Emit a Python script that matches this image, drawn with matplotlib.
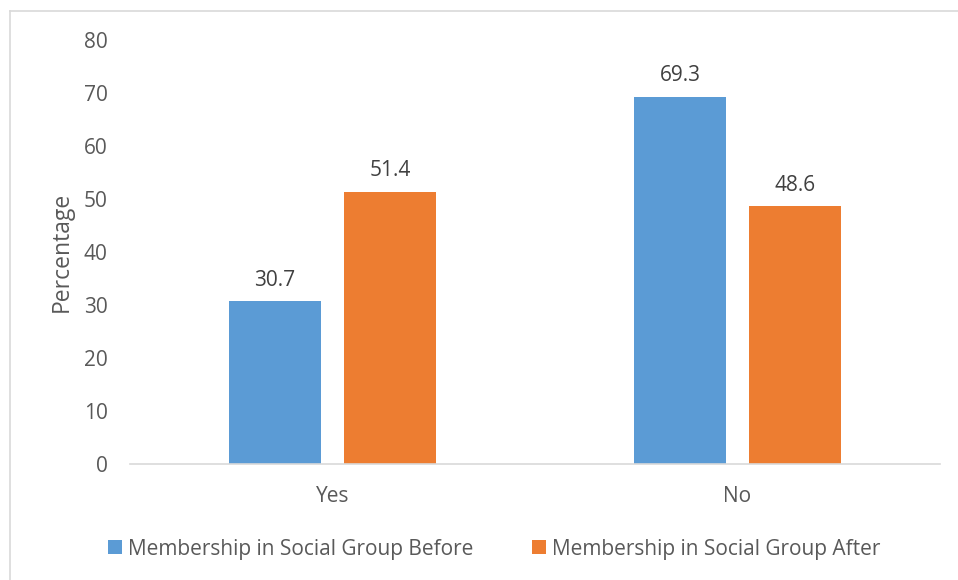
import matplotlib
matplotlib.use("Agg")
import matplotlib.pyplot as plt
from matplotlib.lines import Line2D
import numpy as np

categories = ["Yes", "No"]
series_names = ["Membership in Social Group Before", "Membership in Social Group After"]
before = [30.7, 69.3]
after = [51.4, 48.6]
yticks = [0, 10, 20, 30, 40, 50, 60, 70, 80]

plt.rcParams['font.family'] = ['Open Sans', 'DejaVu Sans']
W, H = 958, 580
fig = plt.figure(figsize=(W/100, H/100), dpi=100)
ax = fig.add_axes([130/W, 1-464/H, 810/W, 424/H])

txt = '#595959'
blue = '#5B9BD5'
orange = '#ED7D31'
fs = 15
x = np.arange(len(categories))
bw = 0.225
off = 0.142
b1 = ax.bar(x - off, before, bw, color=blue, label=series_names[0])
b2 = ax.bar(x + off, after, bw, color=orange, label=series_names[1])
for bars, vals in ((b1, before), (b2, after)):
    for r, v in zip(bars, vals):
        ax.text(r.get_x() + r.get_width()/2, v + 2.0, f"{v:.1f}", ha='center', va='bottom',
                fontsize=fs, color='#404040')

ax.set_xlim(-0.5, 1.5)
ax.set_ylim(0, 80)
ax.set_yticks(yticks)
ax.set_xticks(x)
ax.set_xticklabels(categories)
for s in ['top', 'right', 'left']:
    ax.spines[s].set_visible(False)
ax.spines['bottom'].set_color('#D9D9D9')
ax.spines['bottom'].set_linewidth(1.2)
ax.tick_params(axis='both', length=0, labelsize=fs, colors=txt)
ax.tick_params(axis='y', pad=16)
ax.tick_params(axis='x', pad=16)
ax.set_ylabel("Percentage", fontsize=16.5, color=txt, labelpad=7)

leg = fig.legend(loc='center', bbox_to_anchor=(0.516, 1-549/H), ncol=2, frameon=False,
                 fontsize=fs, handlelength=0.65, handleheight=0.65, handletextpad=0.3,
                 columnspacing=2.8)
for t in leg.get_texts():
    t.set_color(txt)

fig.lines.append(Line2D([10/W, 1], [1-11/H, 1-11/H], transform=fig.transFigure,
                        color='#D9D9D9', linewidth=1.2))
fig.lines.append(Line2D([10/W, 10/W], [0, 1-11/H], transform=fig.transFigure,
                        color='#D9D9D9', linewidth=1.2))
fig.savefig("out.png", dpi=100)
